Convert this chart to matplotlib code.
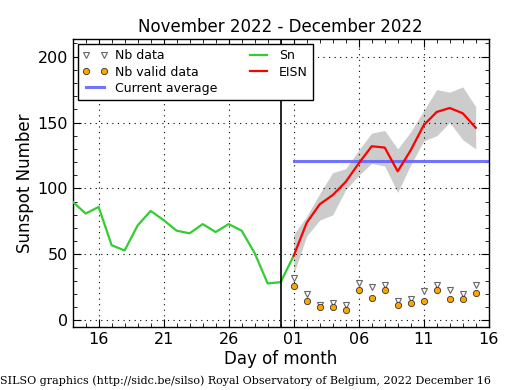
import matplotlib
matplotlib.use("Agg")
import matplotlib.pyplot as plt
import matplotlib.dates as mdates
import numpy as np
import pandas as pd

# daily sunspot number Sn (Nov 14 - Dec 1)
sn_dates = pd.date_range("2022-11-14", "2022-12-01", freq="D")
sn_values = [90, 81, 86, 57, 53, 72, 83, 76, 68, 66, 73, 67, 73, 68, 51, 28, 29, 49]

# estimated ISN (Dec 1 - Dec 15) with its uncertainty band
eisn_dates = pd.date_range("2022-12-01", "2022-12-15", freq="D")
eisn_values = [49, 74, 88, 95, 105, 119, 132, 131, 113, 129, 148, 158, 161, 157, 146]
eisn_upper = [65, 79, 96, 112, 115, 129, 142, 144, 130, 143, 159, 175, 173, 177, 162]
eisn_lower = [35, 64, 76, 80, 99, 110, 119, 117, 97, 118, 136, 140, 150, 137, 130]

# number of stations
nb_data = [32, 20, 12, 13, 12, 28, 25, 27, 15, 16, 22, 27, 23, 20, 27]
nb_valid = [26, 15, 10, 10, 8, 23, 17, 23, 12, 13, 15, 23, 16, 16, 21]

current_average = 120.5
average_start = "2022-12-01"
period_split = "2022-11-30"
x_start, x_end = "2022-11-14", "2022-12-16"

fig = plt.figure(figsize=(5.15, 3.9), dpi=100)
ax = fig.add_axes([0.141, 0.1615, 0.808, 0.7375])

ax.fill_between(eisn_dates, eisn_lower, eisn_upper, color="#cccccc", linewidth=0, zorder=1)
ax.plot(eisn_dates, nb_data, linestyle="none", marker="v", markersize=4,
        markerfacecolor="white", markeredgecolor="#666666", markeredgewidth=0.8,
        label="Nb data", zorder=3)
ax.plot(eisn_dates, nb_valid, linestyle="none", marker="o", markersize=4.5,
        markerfacecolor="#ffa500", markeredgecolor="#333333", markeredgewidth=0.6,
        label="Nb valid data", zorder=3)
ax.plot([pd.Timestamp(average_start), pd.Timestamp(x_end)], [current_average] * 2,
        color="#6464ff", linewidth=2.2, alpha=0.9, label="Current average", zorder=2)
ax.plot(sn_dates, sn_values, color="#33cc33", linewidth=1.6, label="Sn", zorder=4)
ax.plot(eisn_dates, eisn_values, color="red", linewidth=1.6, label="EISN", zorder=5)
ax.axvline(pd.Timestamp(period_split), color="black", linewidth=1.2, zorder=4)

ax.set_xlim(pd.Timestamp(x_start), pd.Timestamp(x_end))
ax.set_ylim(-5, 213)

ax.xaxis.set_major_locator(mdates.DayLocator(bymonthday=[1, 6, 11, 16, 21, 26]))
ax.xaxis.set_major_formatter(mdates.DateFormatter("%d"))
ax.xaxis.set_minor_locator(mdates.DayLocator())
ax.yaxis.set_major_locator(plt.MultipleLocator(50))
ax.yaxis.set_minor_locator(plt.MultipleLocator(10))
ax.tick_params(which="both", direction="in", top=True, right=True, labelsize=11.5)
ax.tick_params(which="major", length=6, width=0.8)
ax.tick_params(which="minor", length=3, width=0.6)
ax.grid(True, which="major", linestyle=(0, (1, 4)), color="black", linewidth=0.8)
for spine in ax.spines.values():
    spine.set_linewidth(1.0)

ax.set_title("November 2022 - December 2022", fontsize=12, pad=5)
ax.set_xlabel("Day of month", fontsize=12, labelpad=2)
ax.set_ylabel("Sunspot Number", fontsize=12, labelpad=2)

legend = ax.legend(loc="upper left", ncol=2, numpoints=2, fontsize=9,
                   fancybox=False, framealpha=1, edgecolor="black",
                   handlelength=2.0, borderpad=0.4, labelspacing=0.25,
                   columnspacing=2.3, handletextpad=0.6,
                   borderaxespad=0.4)
legend.get_frame().set_linewidth(1.0)

fig.text(0.0, 0.01, "SILSO graphics (http://sidc.be/silso) Royal Observatory of Belgium, 2022 December 16",
         fontsize=8, family="DejaVu Serif", ha="left", va="bottom")

fig.savefig("out.png", dpi=100)
plt.close(fig)
